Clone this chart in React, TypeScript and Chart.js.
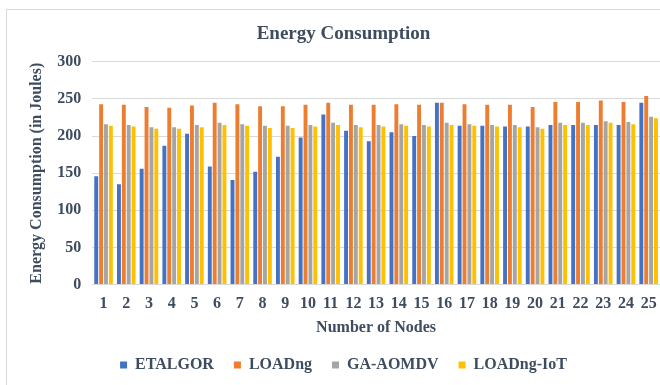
import React, { useEffect, useRef } from "react";
import { Chart, registerables } from "chart.js";

Chart.register(...registerables);

const categories = Array.from({ length: 25 }, (_, i) => String(i + 1));
const etalgor = [146, 135, 156, 187, 203, 159, 141, 152, 172, 198, 229, 207, 193, 205, 200, 245, 214, 214, 213, 213, 215, 215, 215, 215, 245];
const loadng = [243, 242, 239, 238, 241, 245, 243, 240, 240, 242, 245, 242, 242, 243, 242, 245, 243, 242, 242, 239, 246, 246, 248, 246, 254];
const gaAomdv = [216, 215, 212, 212, 215, 218, 216, 214, 214, 215, 218, 215, 215, 216, 215, 218, 216, 215, 215, 212, 218, 218, 220, 219, 226];
const loadngIot = [214, 213, 210, 210, 212, 215, 214, 211, 211, 213, 215, 212, 213, 214, 213, 215, 214, 213, 212, 210, 215, 215, 218, 216, 224];
const yTicks = [0, 50, 100, 150, 200, 250, 300];

const textColor = "#3E4C60";
const fontFamily = "'Liberation Serif', 'DejaVu Serif', serif";

const frame = {
  id: "frame",
  beforeDraw(chart: any) {
    const ctx = chart.ctx;
    ctx.save();
    ctx.fillStyle = "#ffffff";
    ctx.fillRect(0, 0, chart.width, chart.height);
    ctx.strokeStyle = "#D9D9D9";
    ctx.lineWidth = 1;
    ctx.beginPath();
    ctx.moveTo(6.5, chart.height);
    ctx.lineTo(6.5, 9.5);
    ctx.lineTo(chart.width, 9.5);
    ctx.stroke();
    ctx.restore();
  },
};

export default function App() {
  const ref = useRef<HTMLCanvasElement>(null);
  useEffect(() => {
    document.body.style.margin = "0";
    const chart = new Chart(ref.current!, {
      type: "bar",
      data: {
        labels: categories,
        datasets: [
          { label: "ETALGOR", data: etalgor, backgroundColor: "#4472C4" },
          { label: "LOADng", data: loadng, backgroundColor: "#ED7D31" },
          { label: "GA-AOMDV", data: gaAomdv, backgroundColor: "#A5A5A5" },
          { label: "LOADng-IoT", data: loadngIot, backgroundColor: "#FFC000" },
        ],
      },
      options: {
        animation: false,
        responsive: false,
        maintainAspectRatio: false,
        layout: { padding: { left: 27, right: 0, top: 23, bottom: 2 } },
        datasets: { bar: { categoryPercentage: 0.86, barPercentage: 0.8 } },
        plugins: {
          title: {
            display: true,
            text: "Energy Consumption",
            color: textColor,
            font: { family: fontFamily, size: 19, weight: "bold" },
            padding: { top: 0, bottom: 16 },
          },
          legend: {
            position: "bottom",
            labels: {
              color: textColor,
              boxWidth: 7,
              boxHeight: 7,
              padding: 20,
              font: { family: fontFamily, size: 16, weight: "bold" },
            },
          },
          tooltip: { enabled: false },
        },
        scales: {
          x: {
            grid: { display: false },
            border: { color: "#D9D9D9" },
            ticks: {
              color: textColor,
              maxRotation: 0,
              autoSkip: false,
              font: { family: fontFamily, size: 16, weight: "bold" },
              padding: 2,
            },
            title: {
              display: true,
              text: "Number of Nodes",
              color: textColor,
              font: { family: fontFamily, size: 16, weight: "bold" },
              padding: { top: 2, bottom: 0 },
            },
          },
          y: {
            min: 0,
            max: 300,
            afterBuildTicks: (axis: any) => {
              axis.ticks = yTicks.map((v) => ({ value: v }));
            },
            grid: { color: "#D9D9D9", drawTicks: false },
            border: { display: false },
            ticks: {
              color: textColor,
              padding: 11,
              font: { family: fontFamily, size: 16, weight: "bold" },
            },
            title: {
              display: true,
              text: "Energy Consumption (in Joules)",
              color: textColor,
              font: { family: fontFamily, size: 16, weight: "bold" },
              padding: { top: 0, bottom: 0 },
            },
          },
        },
      },
      plugins: [frame],
    });
    return () => chart.destroy();
  }, []);
  return (
    <div style={{ position: "absolute", left: 0, top: 0, width: 660, height: 385 }}>
      <canvas ref={ref} width={660} height={385} style={{ width: 660, height: 385 }} />
    </div>
  );
}
